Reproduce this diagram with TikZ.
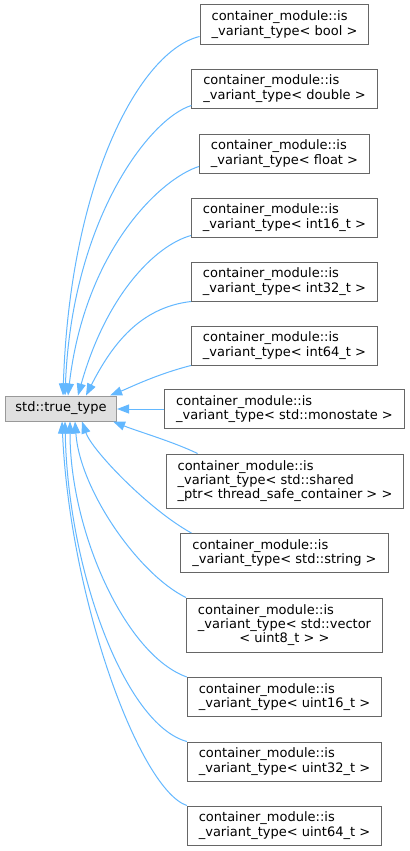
\documentclass[tikz,border=0pt]{standalone}
\usepackage{fontspec}
\setmainfont{DejaVu Sans}
\usetikzlibrary{arrows.meta}
\definecolor{edgeblue}{HTML}{63B8FF}
\definecolor{boxgray}{HTML}{666666}
\definecolor{basegray}{HTML}{999999}
\definecolor{basefill}{HTML}{E0E0E0}
\begin{document}
\begin{tikzpicture}[x=1bp,y=-1bp,font=\fontsize{13bp}{14.3bp}\selectfont,
  cls/.style={draw=boxgray,fill=white,line width=1bp,align=left,inner xsep=11.5bp,inner ysep=0pt,minimum height=39bp},
  cls3/.style={cls,minimum height=54bp},
  inh/.style={draw=edgeblue,line width=1bp,-{Triangle[length=12bp,width=9bp]}}]
  \useasboundingbox[fill=white] (0,0) rectangle (409,851);
  \node[draw=basegray,fill=basefill,line width=1bp,inner xsep=10bp,inner ysep=0pt,minimum height=25bp] (base) at (61,408.5) {std::true\_type};
  \foreach \nm/\yy/\tp in {bool/24.5/bool, double/88.5/double, float/153.5/float,
      int16/217.5/int16\_t, int32/281.5/int32\_t, int64/345.5/int64\_t,
      mono/409/std::monostate, str/553/std::string,
      uint16/697/uint16\_t, uint32/761.5/uint32\_t, uint64/825.5/uint64\_t}
    {\node[cls] (is\nm) at (284.5,\yy) {container\_module::is\\\_variant\_type< \tp\ >};}
  \node[cls3] (isshared) at (285,481) {container\_module::is\\\_variant\_type< std::shared\\\_ptr< thread\_safe\_container > >};
  \node[cls3,align=center] (isvector) at (284.5,625) {\rlap{container\_module::is}\phantom{\_variant\_type< std::vector}\\\_variant\_type< std::vector\\< uint8\_t > >};
  % edges above the base
  \draw[inh] ([yshift=8bp]isbool.south west) .. controls +(-59,14) and +(7,-216) .. ([xshift=2bp]base.north);
  \draw[inh] ([yshift=3bp]isdouble.south west) .. controls +(-42,13) and +(7,-176) .. ([xshift=4bp]base.north);
  \draw[inh] ([yshift=7bp]isfloat.south west) .. controls +(-38,12) and +(17,-146) .. ([xshift=7bp]base.north);
  \draw[inh] ([yshift=2bp]isint16.south west) .. controls +(-36,10) and +(28,-100) .. ([xshift=17bp]base.north);
  \draw[inh] (isint32.south west) .. controls +(-51,6) and +(26,-51) .. ([xshift=25bp]base.north);
  \draw[inh] (isint64.south west) .. controls +(-35,9) and +(20,-8) .. ([xshift=-7bp]base.north east);
  \draw[inh] (ismono.west) -- (ismono.west -| base.east);
  % edges below the base
  \draw[inh] ([xshift=32bp]isshared.north west) .. controls +(-25,-12) and +(25,10) .. ([xshift=-4bp]base.south east);
  \draw[inh] ([xshift=11bp]isstr.north west) .. controls +(-42,-23) and +(10,29) .. ([xshift=21bp]base.south);
  \draw[inh] (isvector.north west) .. controls +(-47,-23) and +(5,69) .. ([xshift=14bp]base.south);
  \draw[inh] (isuint16.north west) .. controls +(-62,-22) and +(0,109) .. ([xshift=9bp]base.south);
  \draw[inh] (isuint32.north west) .. controls +(-62,-17) and +(3,149) .. ([xshift=4bp]base.south);
  \draw[inh] (isuint64.north west) .. controls +(-47,-16) and +(8,179) .. ([xshift=1bp]base.south);
\end{tikzpicture}
\end{document}
